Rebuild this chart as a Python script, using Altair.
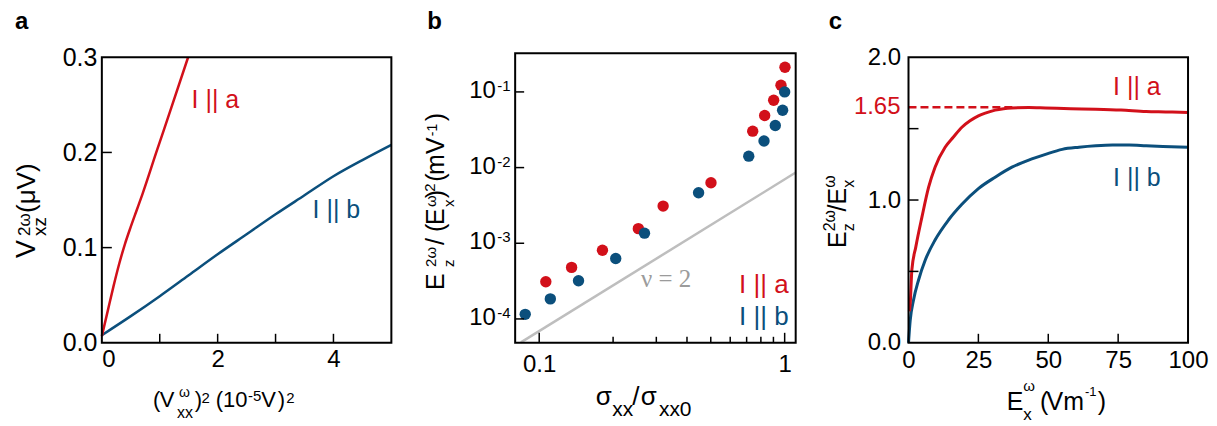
import altair as alt
import pandas as pd

RED = "#d2101a"
BLUE = "#0b4f7c"
GRAY = "#bebebe"
NUGRAY = "#9b9b9b"
SANS = "Liberation Sans"
SERIF = "Liberation Serif"

# ---------------- data: panel a ----------------
a_red_x = [0, 0.1, 0.2, 0.3, 0.4, 0.5, 0.6, 0.7, 0.94, 1.2, 1.49]
a_red_y = [0.007, 0.033, 0.059, 0.083, 0.104, 0.122, 0.139, 0.156, 0.2, 0.247, 0.3]
a_blue_x = [0, 0.5, 1, 1.5, 2, 2.5, 3, 3.5, 4, 4.5, 5]
a_blue_y = [0.008, 0.028, 0.049, 0.071, 0.093, 0.114, 0.135, 0.155, 0.175, 0.192, 0.208]
a_xlabels = [0, 2, 4]
a_ylabels = [0.0, 0.1, 0.2, 0.3]
a_xticks = [1, 2, 3, 4]
a_yticks = [0.1, 0.2]
a_lab_text = ["I || a", "I || b"]
a_lab_x = [1.55, 3.64]
a_lab_y = [0.2465, 0.131]

# ---------------- data: panel b ----------------
b_red_x = [0.1064, 0.1355, 0.181, 0.2535, 0.3198, 0.501, 0.741, 0.829, 0.902, 0.966, 1.003]
b_red_y = [3.1e-4, 4.8e-4, 8.1e-4, 1.56e-3, 3.1e-3, 6.3e-3, 0.0303, 0.0487, 0.0776, 0.1225, 0.212]
b_blue_x = [0.0877, 0.111, 0.1446, 0.205, 0.2685, 0.446, 0.714, 0.824, 0.916, 0.981, 1.0]
b_blue_y = [1.15e-4, 1.84e-4, 3.2e-4, 6.3e-4, 1.36e-3, 4.65e-3, 0.01416, 0.0225, 0.036, 0.0573, 0.1]
b_nu2_x = [0.0842, 1.109]
b_nu2_y = [4.9e-5, 0.0086]
b_xlabels = [0.1, 1]
b_xticks_major = [0.1, 1]
b_xticks_minor = [0.2, 0.3, 0.4, 0.5, 0.6, 0.7, 0.8, 0.9]
b_ytick_vals = [1e-1, 1e-2, 1e-3, 1e-4]
b_ytick_exp = ["-1", "-2", "-3", "-4"]
b_lab_text = ["I || a", "I || b"]
b_lab_x = [0.652, 0.652]
b_lab_y = [2.21e-4, 8.36e-5]
b_nu_text = ["\u03bd = 2"]
b_nu_x = [0.26]
b_nu_y = [2.65e-4]

# ---------------- data: panel c ----------------
c_red_x = [0.3, 0.6, 1.2, 2.6, 4.8, 7.2, 9.5, 13.1, 16, 19.1, 22, 25, 28, 31, 34, 37, 43, 49, 58, 67, 76, 85, 92, 100]
c_red_y = [0.22, 0.27, 0.51, 0.67, 0.88, 1.09, 1.23, 1.37, 1.44, 1.51, 1.555, 1.59, 1.612, 1.63, 1.64, 1.645, 1.648, 1.645, 1.64, 1.636, 1.63, 1.62, 1.617, 1.613]
c_blue_x = [0, 0.6, 1.8, 3.6, 6, 9.5, 14.3, 19.1, 25, 31, 37, 43, 49, 55, 61, 67, 73, 79, 85, 91, 100]
c_blue_y = [0.0, 0.156, 0.30, 0.44, 0.58, 0.72, 0.86, 0.97, 1.08, 1.16, 1.23, 1.28, 1.32, 1.355, 1.37, 1.38, 1.385, 1.385, 1.38, 1.375, 1.37]
c_dash_x = [0, 38]
c_dash_y = [1.65, 1.65]
c_mark_value = [1.65]
c_mark_text = ["1.65"]
c_xlabels = [0, 25, 50, 75, 100]
c_ylabels = [0.0, 1.0, 2.0]
c_xticks = [25, 50, 75]
c_yticks = [0.5, 1.0, 1.5]
c_lab_text = ["I || a", "I || b"]
c_lab_x = [73.2, 73.2]
c_lab_y = [1.734, 1.098]

H = 286


def one():
    return pd.DataFrame({"z": [0]})


def frame(w, top=0):
    return alt.Chart(one()).mark_rect(fillOpacity=0, stroke="black", strokeWidth=2).encode(
        x=alt.value(0), x2=alt.value(w), y=alt.value(top), y2=alt.value(H))


def seg_text(rows, angle=0, font=SANS, weight="normal", color="black"):
    d = pd.DataFrame(rows, columns=["t", "px", "py", "fs"])
    return alt.Chart(d).mark_text(align="left", baseline="alphabetic", font=font,
                                  fontWeight=weight, angle=angle, color=color).encode(
        x=alt.X("px:Q", scale=None), y=alt.Y("py:Q", scale=None), text="t:N",
        size=alt.Size("fs:Q", scale=None, legend=None))


def axis(values, pad, size, fmt=None, flush=False):
    kw = dict(values=values, title=None, ticks=False, tickSize=0, domain=False, grid=False,
              labelFont=SANS, labelFontSize=size, labelColor="black", labelPadding=pad,
              labelFlush=flush)
    if fmt:
        kw["format"] = fmt
    return alt.Axis(**kw)


def xticks(vals, X, length, width=1.5):
    return alt.Chart(pd.DataFrame({"v": vals})).mark_rule(color="black", strokeWidth=width).encode(
        x=X("v"), y=alt.value(H), y2=alt.value(H - length))


def yticks(vals, Y, length, width=1.5):
    return alt.Chart(pd.DataFrame({"v": vals})).mark_rule(color="black", strokeWidth=width).encode(
        y=Y("v"), x=alt.value(0), x2=alt.value(length))


def labels(texts, xs, ys, X, Y, colors, size):
    d = pd.DataFrame({"t": texts, "x": xs, "y": ys, "c": colors})
    return alt.Chart(d).mark_text(align="left", baseline="alphabetic", font=SANS, fontSize=size).encode(
        x=X("x"), y=Y("y"), text="t:N", color=alt.Color("c:N", scale=None, legend=None))


# ================= panel a =================
xa = alt.Scale(domain=[0, 301 / 58], nice=False, zero=False)
ya = alt.Scale(domain=[0, 0.3], nice=False, zero=False)
axa = axis(a_xlabels, 5, 24, flush=True)
aya = axis(a_ylabels, 5, 25, fmt=".1f")
XA = lambda f: alt.X(f, type="quantitative", scale=xa, axis=axa)
YA = lambda f: alt.Y(f, type="quantitative", scale=ya, axis=aya)

a_title_x = [("(", 51.3, 350, 22), ("V", 58, 350, 22), ("xx", 75.3, 361, 16), ("\u03c9", 77.3, 340, 14),
             (")", 93, 350, 22), ("2", 99.7, 346.3, 15), ("(", 114, 350, 22), ("10", 121.3, 350, 22),
             ("-5", 146.3, 344.7, 15), ("V", 159.7, 350, 22), (")", 176.3, 350, 22), ("2", 184.7, 346.3, 15)]
a_title_y = [("V", -66.5, 201, 27), ("xz", -55.5, 179, 19), ("2\u03c9", -72, 179, 17), ("(\u03bcV)", -66.5, 156, 26)]

panel_a = alt.layer(
    alt.Chart(pd.DataFrame({"x": a_blue_x, "y": a_blue_y})).mark_line(
        color=BLUE, strokeWidth=2.5, interpolate="monotone").encode(x=XA("x"), y=YA("y")),
    alt.Chart(pd.DataFrame({"x": a_red_x, "y": a_red_y})).mark_line(
        color=RED, strokeWidth=2.5, interpolate="monotone").encode(x=XA("x"), y=YA("y")),
    xticks(a_xticks, XA, 9),
    yticks(a_yticks, YA, 10),
    labels(a_lab_text, a_lab_x, a_lab_y, XA, YA, [RED, BLUE], 25),
    frame(290),
    seg_text(a_title_x),
    seg_text(a_title_y, angle=270),
    seg_text([("a", -87, -28, 24)], weight="bold"),
    alt.Chart(one()).mark_rect(fillOpacity=0, strokeOpacity=0).encode(
        x=alt.value(-94), x2=alt.value(-93), y=alt.value(-49), y2=alt.value(-48)),
).properties(width=301, height=H)

# ================= panel b =================
xb = alt.Scale(type="log", domain=[0.0798, 1.109], nice=False)
yb = alt.Scale(type="log", domain=[4.84e-5, 0.287], nice=False)
axb = axis(b_xlabels, 10, 24, fmt="~g")
XB = lambda f: alt.X(f, type="quantitative", scale=xb, axis=axb)
YB = lambda f: alt.Y(f, type="quantitative", scale=yb, axis=None)

b_title_x = [("\u03c3", 80.7, 348, 26), ("xx", 97.3, 359.7, 21), ("/", 117.3, 348, 26),
             ("\u03c3", 125.7, 348, 26), ("xx0", 144, 359.7, 21)]
b_title_y = [("E", -71, 233, 25), ("2\u03c9", -79, 210, 15), ("z", -61, 210, 15), ("/", -71, 188, 25),
             ("(", -71, 175, 25), ("E", -71, 168, 25), ("\u03c9", -79, 150, 15), ("x", -61, 150, 15),
             (")", -71, 141.3, 25), ("2", -80, 134.7, 15), ("(", -71, 124.7, 25), ("m", -71, 118, 25),
             ("V", -71, 97, 25), ("-1", -78, 79, 14), (")", -71, 64, 25)]

panel_b = alt.layer(
    alt.Chart(pd.DataFrame({"x": b_nu2_x, "y": b_nu2_y})).mark_line(color=GRAY, strokeWidth=2.5).encode(x=XB("x"), y=YB("y")),
    alt.Chart(pd.DataFrame({"x": b_red_x, "y": b_red_y})).mark_circle(color=RED, size=130, opacity=1).encode(x=XB("x"), y=YB("y")),
    alt.Chart(pd.DataFrame({"x": b_blue_x, "y": b_blue_y})).mark_circle(color=BLUE, size=130, opacity=1).encode(x=XB("x"), y=YB("y")),
    xticks(b_xticks_major, XB, 10),
    xticks(b_xticks_minor, XB, 6),
    yticks(b_ytick_vals, YB, 9),
    alt.Chart(pd.DataFrame({"v": b_ytick_vals})).mark_text(
        text="10", align="left", baseline="alphabetic", dy=6, font=SANS, fontSize=24, color="black").encode(
        y=YB("v"), x=alt.value(-46)),
    alt.Chart(pd.DataFrame({"v": b_ytick_vals, "e": b_ytick_exp})).mark_text(
        align="left", baseline="alphabetic", dy=-1, font=SANS, fontSize=15, color="black").encode(
        y=YB("v"), x=alt.value(-18), text="e:N"),
    labels(b_lab_text, b_lab_x, b_lab_y, XB, YB, [RED, BLUE], 26),
    alt.Chart(pd.DataFrame({"t": b_nu_text, "x": b_nu_x, "y": b_nu_y})).mark_text(
        align="left", baseline="alphabetic", font=SERIF, fontSize=25, color=NUGRAY).encode(
        x=XB("x"), y=YB("y"), text="t:N"),
    frame(281, top=-4),
    seg_text(b_title_x),
    seg_text(b_title_y, angle=270),
    seg_text([("b", -88, -28, 24)], weight="bold"),
).properties(width=281, height=H)

# ================= panel c =================
xc = alt.Scale(domain=[0, 100], nice=False, zero=False)
yc = alt.Scale(domain=[0, 2], nice=False, zero=False)
axc = axis(c_xlabels, 6, 24)
ayc = axis(c_ylabels, 8, 24, fmt=".1f")
XC = lambda f: alt.X(f, type="quantitative", scale=xc, axis=axc)
YC = lambda f: alt.Y(f, type="quantitative", scale=yc, axis=ayc)

c_title_x = [("E", 98.3, 353, 25), ("\u03c9", 115, 334.7, 15), ("x", 115, 363, 17), ("(", 131.7, 353, 25),
             ("Vm", 138.3, 353, 25), ("-1", 176.7, 339.7, 13), (")", 189.5, 353, 25)]
c_title_y = [("E", -63, 191, 25), ("2\u03c9", -74, 174.3, 16), ("z", -55, 174.3, 16), ("/", -63, 154.4, 25),
             ("E", -63, 147.4, 25), ("\u03c9", -74, 130.7, 16), ("x", -55, 130.7, 16)]

panel_c = alt.layer(
    alt.Chart(pd.DataFrame({"x": c_dash_x, "y": c_dash_y})).mark_line(color=RED, strokeWidth=2.5, strokeDash=[8, 4]).encode(x=XC("x"), y=YC("y")),
    alt.Chart(pd.DataFrame({"x": c_blue_x, "y": c_blue_y})).mark_line(
        color=BLUE, strokeWidth=3, interpolate="monotone").encode(x=XC("x"), y=YC("y")),
    alt.Chart(pd.DataFrame({"x": c_red_x, "y": c_red_y})).mark_line(
        color=RED, strokeWidth=3, interpolate="monotone").encode(x=XC("x"), y=YC("y")),
    xticks(c_xticks, XC, 9),
    yticks(c_yticks, YC, 10),
    alt.Chart(pd.DataFrame({"v": c_mark_value, "t": c_mark_text})).mark_text(
        align="right", baseline="middle", font=SANS, fontSize=24, color=RED).encode(
        y=YC("v"), x=alt.value(-8), text="t:N"),
    labels(c_lab_text, c_lab_x, c_lab_y, XC, YC, [RED, BLUE], 25),
    frame(280),
    seg_text(c_title_x),
    seg_text(c_title_y, angle=270),
    seg_text([("c", -80, -28, 24)], weight="bold"),
).properties(width=280, height=H)

chart = alt.hconcat(panel_a, panel_b, panel_c, spacing=113, bounds="flush").properties(
    padding=0).configure_view(strokeWidth=0).configure_axis(grid=False)

chart.save("out.html", embed_options={"renderer": "svg", "actions": False})
